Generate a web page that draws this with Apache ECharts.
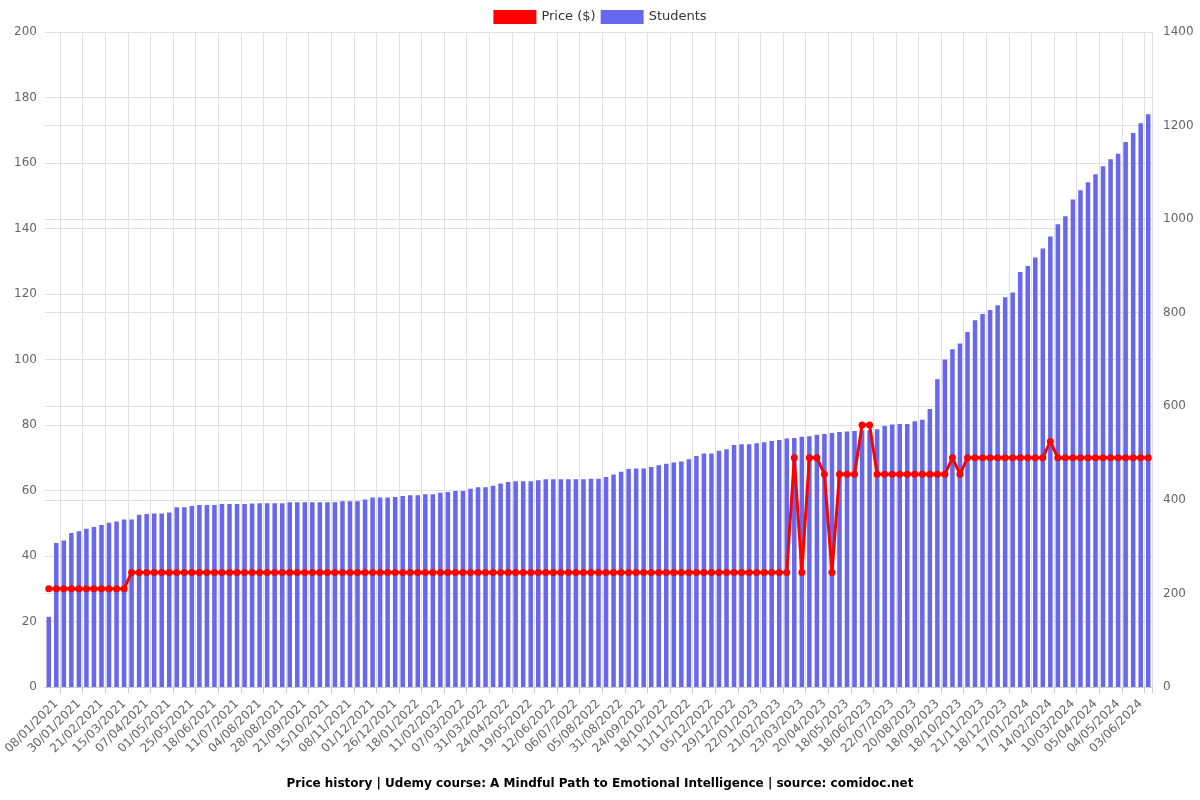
<!DOCTYPE html>
<html>
<head>
<meta charset="utf-8">
<script src="https://cdn.jsdelivr.net/npm/echarts@6/dist/echarts.min.js"></script>
<style>html,body{margin:0;padding:0;background:#fff;}#c{width:1200px;height:800px;}</style>
</head>
<body>
<div id="c"></div>
<script>
const dates = [
'01/01/2021',
'08/01/2021','15/01/2021','23/01/2021','30/01/2021','06/02/2021','14/02/2021','21/02/2021','28/02/2021','08/03/2021',
'15/03/2021','22/03/2021','30/03/2021','07/04/2021','15/04/2021','23/04/2021','01/05/2021','09/05/2021','17/05/2021',
'25/05/2021','02/06/2021','10/06/2021','18/06/2021','26/06/2021','03/07/2021','11/07/2021','19/07/2021','27/07/2021',
'04/08/2021','12/08/2021','20/08/2021','28/08/2021','05/09/2021','13/09/2021','21/09/2021','29/09/2021','07/10/2021',
'15/10/2021','23/10/2021','31/10/2021','08/11/2021','16/11/2021','24/11/2021','01/12/2021','09/12/2021','17/12/2021',
'26/12/2021','02/01/2022','10/01/2022','18/01/2022','26/01/2022','03/02/2022','11/02/2022','19/02/2022','27/02/2022',
'07/03/2022','15/03/2022','23/03/2022','31/03/2022','08/04/2022','16/04/2022','24/04/2022','02/05/2022','10/05/2022',
'19/05/2022','27/05/2022','04/06/2022','12/06/2022','20/06/2022','28/06/2022','06/07/2022','16/07/2022','26/07/2022',
'05/08/2022','14/08/2022','22/08/2022','31/08/2022','08/09/2022','16/09/2022','24/09/2022','02/10/2022','10/10/2022',
'18/10/2022','26/10/2022','03/11/2022','11/11/2022','19/11/2022','27/11/2022','05/12/2022','13/12/2022','21/12/2022',
'29/12/2022','06/01/2023','14/01/2023','22/01/2023','01/02/2023','11/02/2023','21/02/2023','03/03/2023','13/03/2023',
'23/03/2023','02/04/2023','11/04/2023','20/04/2023','29/04/2023','08/05/2023','18/05/2023','28/05/2023','07/06/2023',
'18/06/2023','29/06/2023','11/07/2023','22/07/2023','01/08/2023','10/08/2023','20/08/2023','30/08/2023','08/09/2023',
'18/09/2023','28/09/2023','08/10/2023','18/10/2023','29/10/2023','10/11/2023','21/11/2023','30/11/2023','09/12/2023',
'18/12/2023','28/12/2023','07/01/2024','17/01/2024','26/01/2024','04/02/2024','14/02/2024','22/02/2024','01/03/2024',
'10/03/2024','18/03/2024','27/03/2024','05/04/2024','15/04/2024','25/04/2024','04/05/2024','14/05/2024','24/05/2024',
'03/06/2024','13/06/2024'
];

const price = [
29.99,29.99,29.99,29.99,29.99,29.99,29.99,29.99,29.99,29.99,29.99,
34.99,34.99,34.99,34.99,34.99,34.99,34.99,34.99,34.99,34.99,
34.99,34.99,34.99,34.99,34.99,34.99,34.99,34.99,34.99,34.99,
34.99,34.99,34.99,34.99,34.99,34.99,34.99,34.99,34.99,34.99,
34.99,34.99,34.99,34.99,34.99,34.99,34.99,34.99,34.99,34.99,
34.99,34.99,34.99,34.99,34.99,34.99,34.99,34.99,34.99,34.99,
34.99,34.99,34.99,34.99,34.99,34.99,34.99,34.99,34.99,34.99,
34.99,34.99,34.99,34.99,34.99,34.99,34.99,34.99,34.99,34.99,
34.99,34.99,34.99,34.99,34.99,34.99,34.99,34.99,34.99,34.99,
34.99,34.99,34.99,34.99,34.99,34.99,34.99,34.99,
69.99,34.99,69.99,69.99,64.99,34.99,64.99,64.99,64.99,79.99,79.99,
64.99,64.99,64.99,64.99,64.99,64.99,64.99,64.99,64.99,64.99,
69.99,64.99,
69.99,69.99,69.99,69.99,69.99,69.99,69.99,69.99,69.99,69.99,69.99,
74.99,
69.99,69.99,69.99,69.99,69.99,69.99,69.99,69.99,69.99,69.99,69.99,69.99,69.99
];

const students = [
150,308,313,329,333,338,342,346,351,354,
358,358,368,370,371,371,373,384,384,387,
389,389,389,391,391,391,391,392,393,393,
393,393,395,395,395,395,395,395,395,397,
397,397,401,405,405,405,406,408,410,410,
412,412,415,417,419,419,424,427,427,430,
435,438,440,440,440,442,444,444,444,444,
444,444,445,445,449,454,460,466,467,467,
470,474,477,480,482,487,494,499,499,505,
508,517,519,519,521,523,526,528,531,532,
535,536,539,541,543,545,546,547,548,549,
551,558,561,562,562,568,571,594,658,700,
722,734,759,784,797,806,816,833,843,887,
900,918,937,963,989,1006,1042,1062,1079,1096,
1113,1128,1140,1165,1184,1205,1224
];

const priceTicks = {min: 0, max: 200, interval: 20};
const studentTicks = {min: 0, max: 1400, interval: 200};

const labelEvery = function (i) { return i % 3 === 1; };
const tickEvery = function (i) { return i % 3 === 2; };

const chart = echarts.init(document.getElementById('c'));
chart.setOption({
  animation: false,
  backgroundColor: '#ffffff',
  title: {
    text: 'Price history | Udemy course: A Mindful Path to Emotional Intelligence | source: comidoc.net',
    left: 'center', bottom: 5,
    textStyle: {fontSize: 12, fontWeight: 'bold', color: '#000', fontFamily: 'DejaVu Sans'}
  },
  legend: {
    top: 5, left: 'center', itemWidth: 43, itemHeight: 14, itemGap: 5,
    textStyle: {fontSize: 13, color: '#333', fontFamily: 'DejaVu Sans'},
    data: [{name: 'Price ($)', icon: 'rect'}, {name: 'Students', icon: 'rect'}]
  },
  grid: {left: 45, right: 48, top: 32, bottom: 113, containLabel: false, outerBoundsMode: 'none'},
  xAxis: {
    type: 'category', data: dates, boundaryGap: true,
    axisLabel: {rotate: 45, interval: labelEvery, margin: 15, color: '#666', fontSize: 12, fontFamily: 'DejaVu Sans'},
    axisTick: {show: true, interval: tickEvery, length: 6, lineStyle: {color: '#ccc'}},
    axisLine: {lineStyle: {color: '#ccc'}},
    splitLine: {show: true, interval: tickEvery, lineStyle: {color: '#e0e0e0'}}
  },
  yAxis: [
    {type: 'value', min: priceTicks.min, max: priceTicks.max, interval: priceTicks.interval, position: 'left',
     axisLabel: {color: '#666', fontSize: 12, fontFamily: 'DejaVu Sans'},
     axisLine: {show: false}, axisTick: {show: false},
     splitLine: {lineStyle: {color: '#e0e0e0'}}},
    {type: 'value', min: studentTicks.min, max: studentTicks.max, interval: studentTicks.interval, position: 'right',
     axisLabel: {color: '#666', fontSize: 12, margin: 11, fontFamily: 'DejaVu Sans', formatter: function (v) { return String(v); }},
     axisLine: {show: false}, axisTick: {show: false},
     splitLine: {lineStyle: {color: '#e0e0e0'}}}
  ],
  series: [
    {name: 'Price ($)', type: 'line', yAxisIndex: 0, data: price, z: 3,
     itemStyle: {color: '#ff0000'}, lineStyle: {color: '#ff0000', width: 3},
     symbol: 'circle', symbolSize: 7, showSymbol: true, showAllSymbol: true},
    {name: 'Students', type: 'bar', yAxisIndex: 1, data: students, z: 2,
     barWidth: '60%', itemStyle: {color: '#6868ee'}}
  ]
});
</script>
</body>
</html>
